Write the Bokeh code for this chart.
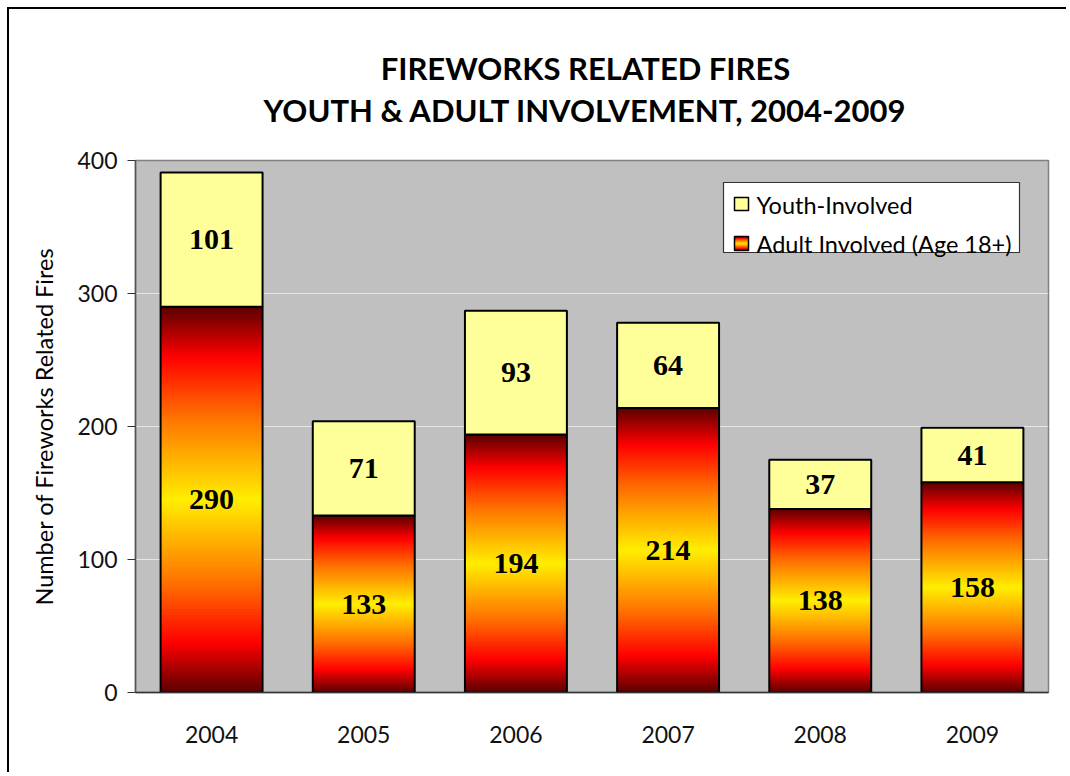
from bokeh.plotting import figure
from bokeh.layouts import column
from bokeh.models import FixedTicker, Range1d, FactorRange
from bokeh.core.properties import value
from bokeh.embed import file_html
from bokeh.resources import INLINE

# ---- data ----
years = ["2004", "2005", "2006", "2007", "2008", "2009"]
youth = [101, 71, 93, 64, 37, 41]
adult = [290, 133, 194, 214, 138, 158]
y_ticks = [0, 100, 200, 300, 400]
title_lines = ["FIREWORKS RELATED FIRES", "YOUTH & ADULT INVOLVEMENT, 2004-2009"]
legend_labels = ["Youth-Involved", "Adult Involved (Age 18+)"]
y_label = "Number of Fireworks Related Fires"

# ---- style ----
YELLOW = "#ffff99"
BG = "#c0c0c0"
FONT = "Lato"
BAR_W = 0.67
grad_stops = [(0.0, (90, 0, 0)), (0.13, (255, 0, 0)), (0.28, (255, 110, 0)),
              (0.5, (255, 238, 0)), (0.72, (255, 110, 0)), (0.87, (255, 0, 0)),
              (1.0, (90, 0, 0))]


def grad_color(f):
    for (f0, c0), (f1, c1) in zip(grad_stops[:-1], grad_stops[1:]):
        if f0 <= f <= f1:
            t = (f - f0) / (f1 - f0)
            r, g, b = (int(round(a + (b_ - a) * t)) for a, b_ in zip(c0, c1))
            return "#%02x%02x%02x" % (r, g, b)
    return "#%02x%02x%02x" % grad_stops[-1][1]


OFF = 9                                        # canvas offset on the page
FR_L, FR_T, FR_R, FR_B = 135, 160, 1048, 692   # plot frame on the page
HT = 128                                       # height of the title strip
MR, MB, MT = 20, 82, FR_T - OFF - HT
ML = FR_L - OFF
W = FR_R - OFF + MR
H = FR_B - OFF - HT + MB
YMAX = 400
fw = W - ML - MR
fh = H - MT - MB
TITLE_Y = [67, 109]      # text anchor rows inside the title strip
TITLE_X = 585


def px_x(px):  # page pixel -> synthetic x coordinate
    return (px - FR_L) / fw * len(years)


def px_y(py):  # page pixel -> data y
    return (FR_B - py) / fh * YMAX


# ---- title strip (frame aligned horizontally with the chart frame) ----
tp = figure(width=W, height=HT, x_range=Range1d(FR_L, FR_R), y_range=Range1d(OFF + HT, OFF),
            output_backend="svg", toolbar_location=None,
            min_border_left=ML, min_border_right=MR, min_border_top=0, min_border_bottom=0,
            x_axis_type=None, y_axis_type=None, outline_line_color=None,
            background_fill_color="white", border_fill_color="white")
tp.grid.visible = False
tp.text(x=[TITLE_X] * 2, y=TITLE_Y, text=title_lines, text_font=value(FONT),
        text_font_size="31px", text_font_style="bold", text_color="black",
        text_align="center", text_baseline="alphabetic")

# ---- main chart ----
p = figure(width=W, height=H, x_range=FactorRange(*years), y_range=Range1d(0, YMAX),
           output_backend="svg", toolbar_location=None,
           min_border_left=ML, min_border_top=MT, min_border_right=MR, min_border_bottom=MB,
           background_fill_color=BG, border_fill_color="white")

# gradient adult bars, drawn as thin overlapping slices
N = 120
xs, bots, tops, cols = [], [], [], []
for yr, a in zip(years, adult):
    for k in range(N):
        xs.append(yr)
        bots.append(a * k / N)
        tops.append(a * min(k + 1.8, N) / N)
        cols.append(grad_color((k + 0.5) / N))
p.vbar(x=xs, bottom=bots, top=tops, width=BAR_W, fill_color=cols, line_color=None)
p.vbar(x=years, bottom=0, top=adult, width=BAR_W, fill_color=None, line_color="black", line_width=2)

totals = [a + y for a, y in zip(adult, youth)]
p.vbar(x=years, bottom=adult, top=totals, width=BAR_W, fill_color=YELLOW,
       line_color="black", line_width=2)

# value labels
p.text(x=years, y=[a / 2 for a in adult], text=[str(a) for a in adult],
       text_font=value("Liberation Serif"), text_font_size="30px", text_font_style="bold",
       text_align="center", text_baseline="middle", text_color="black")
p.text(x=years, y=[a + y / 2 for a, y in zip(adult, youth)], text=[str(y) for y in youth],
       text_font=value("Liberation Serif"), text_font_size="30px", text_font_style="bold",
       text_align="center", text_baseline="middle", text_color="black")

# legend (manual, to show the gradient swatch)
p.quad(left=px_x(723), right=px_x(1019), top=px_y(182), bottom=px_y(252),
       fill_color="white", line_color="#333333", line_width=1.2)
p.quad(left=px_x(734), right=px_x(748), top=px_y(197), bottom=px_y(210),
       fill_color=YELLOW, line_color="black", line_width=1.5)
M = 14
sb, st, sc = [], [], []
b0, b1 = px_y(250), px_y(236)
for k in range(M):
    sb.append(b0 + (b1 - b0) * k / M)
    st.append(b0 + (b1 - b0) * min(k + 1.8, M) / M)
    sc.append(grad_color((k + 0.5) / M))
p.quad(left=px_x(734), right=px_x(748), bottom=sb, top=st, fill_color=sc, line_color=None)
p.quad(left=px_x(734), right=px_x(748), top=px_y(236), bottom=px_y(250),
       fill_color=None, line_color="black", line_width=1.5)
p.text(x=[px_x(756)] * 2, y=[px_y(204), px_y(243)], text=legend_labels,
       text_font=value(FONT), text_font_size="23.5px", text_align="left",
       text_baseline="middle", text_color="black")

# axes and grid
p.xgrid.grid_line_color = None
p.ygrid.grid_line_color = "#e6e6e6"
p.ygrid.grid_line_width = 1
p.outline_line_color = "#808080"
p.outline_line_width = 1.5

p.yaxis.ticker = FixedTicker(ticks=y_ticks)
p.yaxis.axis_label = y_label
p.yaxis.axis_label_text_font = FONT
p.yaxis.axis_label_text_font_size = "23.5px"
p.yaxis.axis_label_text_font_style = "normal"
p.yaxis.axis_label_text_color = "black"
p.yaxis.axis_label_standoff = 16
p.yaxis.major_label_text_font = FONT
p.yaxis.major_label_text_font_size = "23px"
p.yaxis.major_label_text_color = "#111111"
p.yaxis.major_tick_out = 8
p.yaxis.major_tick_in = 0
p.yaxis.minor_tick_out = 0
p.yaxis.minor_tick_in = 0
p.yaxis.major_tick_line_color = "#333333"
p.yaxis.axis_line_color = "#555555"
p.yaxis.axis_line_width = 1.5
p.yaxis.major_label_standoff = 10

p.xaxis.major_label_text_font = FONT
p.xaxis.major_label_text_font_size = "23px"
p.xaxis.major_label_text_color = "#111111"
p.xaxis.major_tick_out = 0
p.xaxis.major_tick_in = 0
p.xaxis.axis_line_color = "#333333"
p.xaxis.axis_line_width = 1.5
p.xaxis.major_label_standoff = 33

layout = column(tp, p, spacing=0,
                styles={"margin-left": "%dpx" % OFF, "margin-top": "%dpx" % OFF,
                        "box-shadow": "-2px -2px 0 0 black", "overflow": "hidden"})

open("out.html", "w").write(file_html(layout, INLINE))
